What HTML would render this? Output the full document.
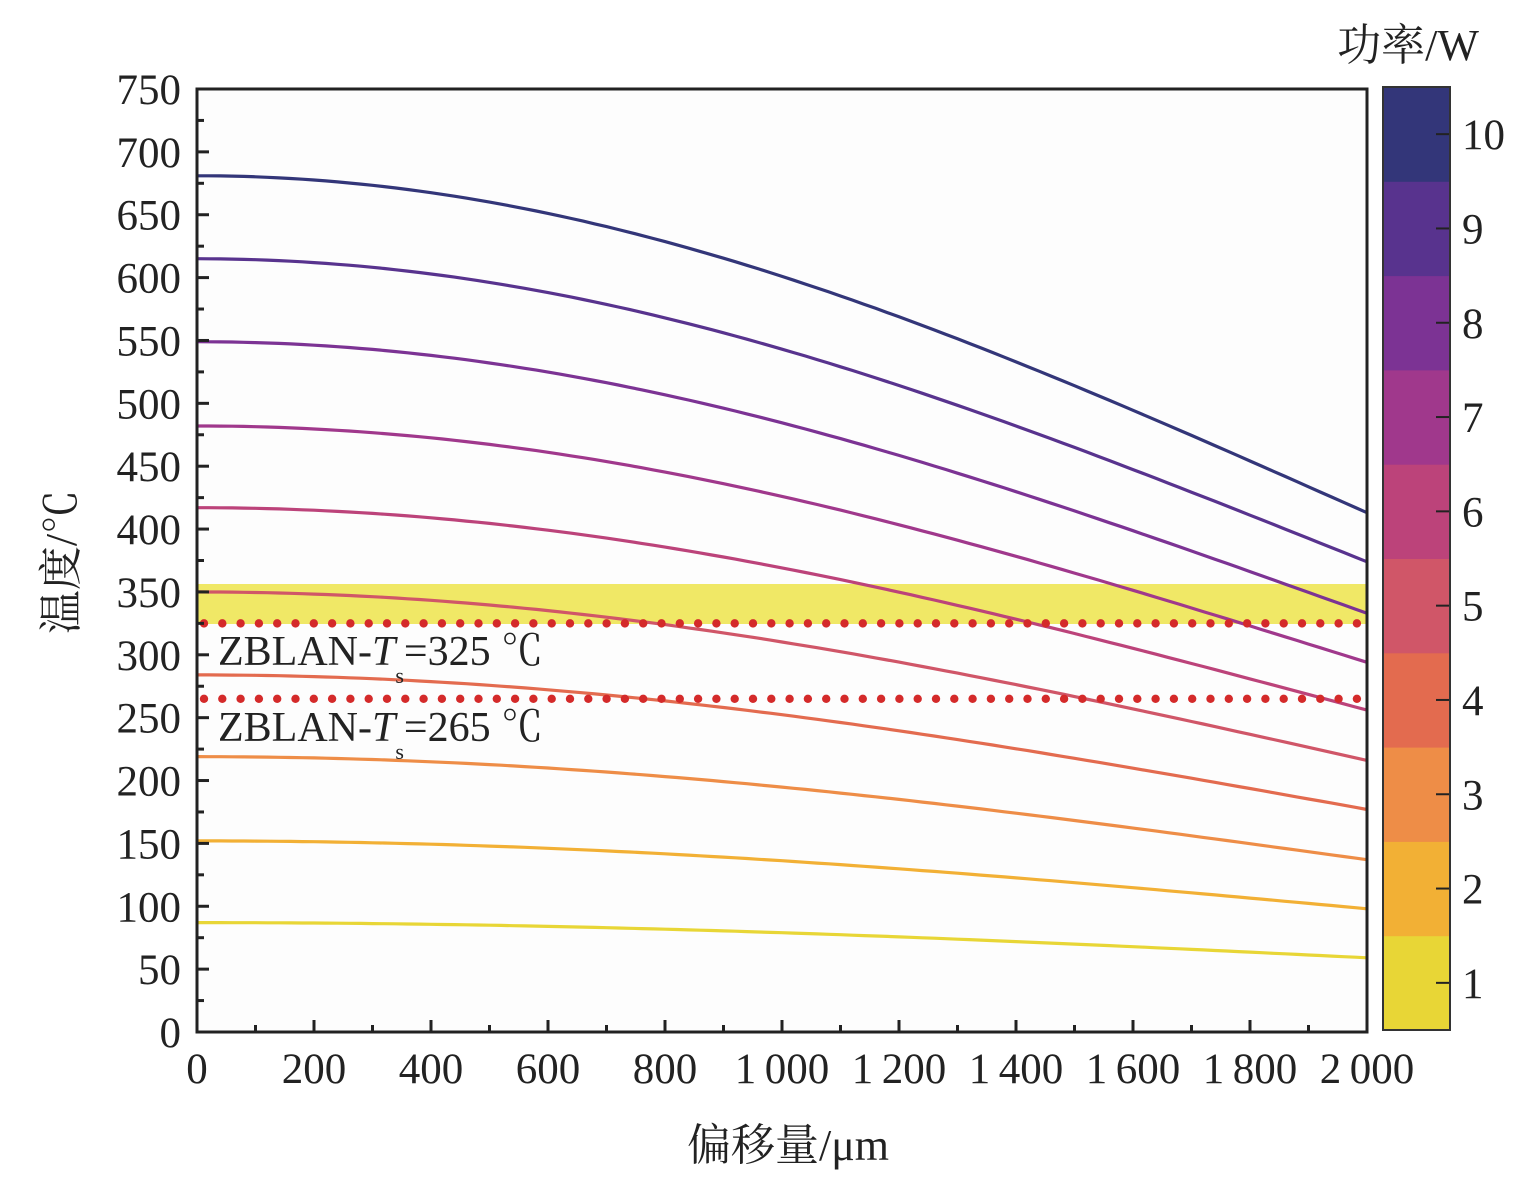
<!DOCTYPE html>
<html><head><meta charset="utf-8"><style>
html,body{margin:0;padding:0;background:#fff}
svg{display:block}
text{font-family:"Liberation Serif","Noto Serif CJK SC",serif;fill:#222}
</style></head><body>
<svg id="s" width="1526" height="1194" xmlns="http://www.w3.org/2000/svg">
<rect x="197" y="89" width="1170" height="943" fill="#fdfdfd"/>
<rect x="197" y="584" width="1170" height="40" fill="#f0e866"/>
<g id="curves"></g>
<g id="dots"></g>
<text x="218" y="665" font-size="42">ZBLAN-<tspan font-style="italic">T</tspan><tspan font-size="22" dy="18">s</tspan><tspan dy="-18">=325 ℃</tspan></text>
<text x="218" y="741" font-size="42">ZBLAN-<tspan font-style="italic">T</tspan><tspan font-size="22" dy="18">s</tspan><tspan dy="-18">=265 ℃</tspan></text>
<rect x="197" y="89" width="1170" height="943" fill="none" stroke="#222" stroke-width="3"/>
<g id="ticks" stroke="#222" stroke-width="3"></g>
<g id="labels" font-size="43"></g>
<g id="cb"></g>
<text x="1408" y="60" font-size="44" text-anchor="middle">功率/W</text>
<text x="788" y="1160" font-size="44" text-anchor="middle">偏移量/μm</text>
<text transform="translate(76,562) rotate(-90)" font-size="44" text-anchor="middle">温度/℃</text>
</svg>
<script>
var NS="http://www.w3.org/2000/svg";
function el(p,t,a,txt){var e=document.createElementNS(NS,t);for(var k in a)e.setAttribute(k,a[k]);if(txt!==undefined)e.textContent=txt;document.getElementById(p).appendChild(e);}
function X(v){return 197+v*1170/2000}
function Y(v){return 1032-v*943/750}
var T0=[87,152,219,284,350,417,482,549,615,681];
var TE=[59,98,137,177,216,256,294,333,374,413];
var cols=["#e8d636","#f2b035","#ee8d47","#e36b4f","#d05668","#bc437a","#a0388c","#7c3394","#58338e","#333679"];
for(var i=0;i<10;i++){var a=-Math.log(TE[i]/T0[i]);var d="";for(var x=0;x<=2000;x+=20){var v=T0[i]*Math.exp(-a*Math.pow(x/2000,2));d+=(x?"L":"M")+X(x).toFixed(1)+","+Y(v).toFixed(1);}
el("curves","path",{d:d,fill:"none",stroke:cols[i],"stroke-width":3.2});}
[325,265].forEach(function(v){for(var x=204;x<1367;x+=18.3)el("dots","circle",{cx:x,cy:Y(v),r:4.2,fill:"#d42a2a"});});
for(var v=0;v<=750;v+=25){var y=Y(v);var L=(v%50==0)?12:7;el("ticks","line",{x1:197,x2:197+L,y1:y,y2:y});
if(v%50==0)el("labels","text",{x:181,y:y+15,"text-anchor":"end"},""+v);}
for(var x=0;x<=2000;x+=100){var px=X(x);var L=(x%200==0)?12:7;el("ticks","line",{x1:px,x2:px,y1:1032,y2:1032-L});
if(x%200==0){var s=x>=1000?(Math.floor(x/1000)+"\u2009"+("00"+(x%1000)).slice(-3)):""+x;el("labels","text",{x:px,y:1083,"text-anchor":"middle"},s);}}
var bh=943/10;
for(var i=0;i<10;i++){var y0=87+(9-i)*bh;el("cb","rect",{x:1383,y:y0,width:67,height:bh+0.5,fill:cols[i]});
var yc=y0+bh/2;el("cb","line",{x1:1436,x2:1450,y1:yc,y2:yc,stroke:"#222","stroke-width":2});
el("cb","text",{x:1462,y:yc+15,"font-size":43},""+(i+1));}
el("cb","rect",{x:1383,y:87,width:67,height:943,fill:"none",stroke:"#333","stroke-width":2});
</script>
</body></html>
